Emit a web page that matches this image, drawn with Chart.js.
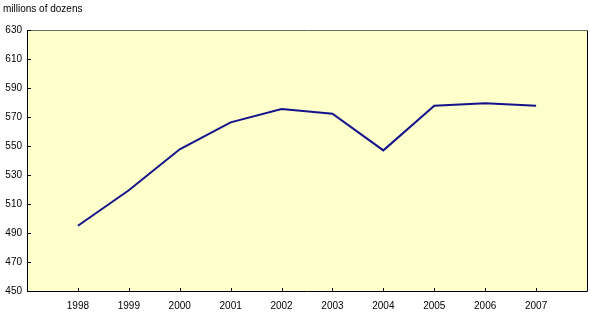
<!DOCTYPE html>
<html>
<head>
<meta charset="utf-8">
<script src="https://cdn.jsdelivr.net/npm/chart.js@4"></script>
<style>
html,body{margin:0;padding:0;background:#fff;}
#wrap{width:590px;height:313px;position:relative;}
</style>
</head>
<body>
<div id="wrap"><canvas id="c" width="590" height="313"></canvas></div>
<script>
const years = [1998, 1999, 2000, 2001, 2002, 2003, 2004, 2005, 2006, 2007];
const production = [495, 519.5, 547.7, 566.3, 575.5, 572.3, 547, 577.7, 579.5, 577.7];
const yTicks = [450, 470, 490, 510, 530, 550, 570, 590, 610, 630];
const yTitle = 'millions of dozens';

const FONT = 'Liberation Sans, Arial, sans-serif';

const frame = {
  id: 'frame',
  beforeDatasetsDraw(chart) {
    const {ctx, chartArea: a} = chart;
    ctx.save();
    ctx.fillStyle = '#FFFFCC';
    ctx.fillRect(a.left, a.top, a.right - a.left, a.bottom - a.top);
    ctx.restore();
  },
  afterDatasetsDraw(chart) {
    const {ctx, chartArea: a, scales} = chart;
    ctx.save();
    ctx.lineWidth = 1;
    ctx.strokeStyle = '#000';
    ctx.beginPath();
    ctx.moveTo(a.left + 0.5, a.top);
    ctx.lineTo(a.left + 0.5, a.bottom + 0.5);
    ctx.lineTo(a.right + 0.5, a.bottom + 0.5);
    ctx.lineTo(a.right + 0.5, a.top);
    ctx.stroke();
    ctx.strokeStyle = '#6b6b6b';
    ctx.beginPath();
    ctx.moveTo(a.left, a.top + 0.5);
    ctx.lineTo(a.right + 1, a.top + 0.5);
    ctx.stroke();
    ctx.strokeStyle = '#000';
    ctx.beginPath();
    yTicks.forEach(v => {
      const y = Math.round(scales.y.getPixelForValue(v)) + 0.5;
      ctx.moveTo(a.left, y); ctx.lineTo(a.left + 4, y);
    });
    years.forEach(v => {
      const x = Math.round(scales.x.getPixelForValue(v)) + 0.5;
      ctx.moveTo(x, a.bottom); ctx.lineTo(x, a.bottom - 3);
    });
    ctx.stroke();
    ctx.fillStyle = '#000';
    ctx.font = '10px ' + FONT;
    ctx.textBaseline = 'top';
    ctx.textAlign = 'left';
    ctx.fillText(yTitle, 3, 4);
    ctx.restore();
  }
};

new Chart(document.getElementById('c'), {
  type: 'line',
  data: {
    datasets: [{
      data: years.map((y, i) => ({x: y, y: production[i]})),
      borderColor: '#12128a',
      borderWidth: 2,
      pointRadius: 0,
      tension: 0,
      fill: false
    }]
  },
  options: {
    responsive: false,
    animation: false,
    devicePixelRatio: 1,
    layout: {padding: {top: 30, right: 3, left: 0, bottom: 0}},
    plugins: {legend: {display: false}, tooltip: {enabled: false}},
    scales: {
      x: {
        type: 'linear',
        min: 1997, max: 2008,
        afterBuildTicks(scale) { scale.ticks = years.map(v => ({value: v})); },
        afterFit(scale) { scale.height = 22; },
        grid: {display: false, drawTicks: false},
        border: {display: false},
        ticks: {
          padding: 9,
          color: '#000',
          font: {family: FONT, size: 10},
          callback: v => String(v),
          maxRotation: 0, autoSkip: false
        }
      },
      y: {
        min: 450, max: 630,
        afterBuildTicks(scale) { scale.ticks = yTicks.map(v => ({value: v})); },
        afterFit(scale) { scale.width = 27; },
        grid: {display: false, drawTicks: false},
        border: {display: false},
        ticks: {
          padding: 5,
          color: '#000',
          font: {family: FONT, size: 10},
          callback: v => String(v)
        }
      }
    }
  },
  plugins: [frame]
});
</script>
</body>
</html>
